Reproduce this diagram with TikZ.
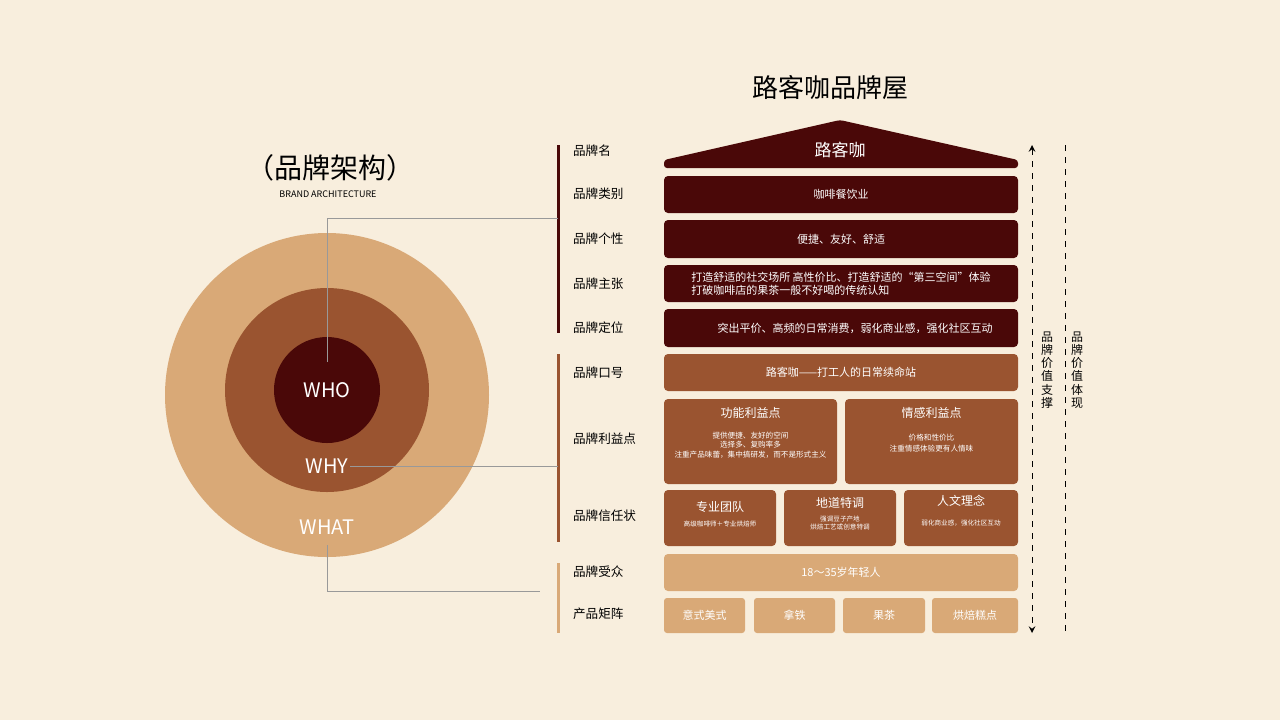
\documentclass[tikz,border=0pt]{standalone}
\usepackage{fontspec}
\setmainfont{Noto Sans CJK SC}
\begin{document}
\begin{tikzpicture}[x=0.5pt,y=-0.5pt,
  dk/.style={fill=c1,draw=none,rounded corners=2pt},
  md/.style={fill=c2,draw=none,rounded corners=2pt},
  lt/.style={fill=c3,draw=none,rounded corners=2pt},
  lab/.style={anchor=west,font=\fontsize{6.3}{7}\selectfont,text=black},
  wt/.style={text=white,align=center},
  conn/.style={draw=gray!80,line width=0.5pt}]
\definecolor{bg}{HTML}{F8EEDD}
\definecolor{c1}{HTML}{4A0808}
\definecolor{c2}{HTML}{9A5430}
\definecolor{c3}{HTML}{D9A977}
\fill[bg] (0,0) rectangle (1280,720);
\useasboundingbox (0,0) rectangle (1280,720);
% circles
\fill[c3] (327,395) circle[radius=81pt];
\fill[c2] (327,390) circle[radius=51pt];
\fill[c1] (327,390) circle[radius=26.5pt];
\node[text=white,font=\fontsize{10}{12}\selectfont] (who) at (327,390) {WHO};
\node[text=white,font=\fontsize{10}{12}\selectfont] (why) at (327,466) {WHY};
\node[text=white,font=\fontsize{10}{12}\selectfont] (what) at (327,527) {WHAT};
\node[font=\fontsize{14}{16}\selectfont] (t1) at (330,168) {（品牌架构）};
\node[font=\fontsize{4.5}{5}\selectfont] (t2) at (328,194) {BRAND ARCHITECTURE};
\node[font=\fontsize{13}{15}\selectfont] (t3) at (830,88) {路客咖品牌屋};
% bars
\draw[c1,line width=1.5pt] (558,145) -- (558,333);
\draw[c2,line width=1.5pt] (558,354) -- (558,542);
\draw[c3,line width=1.5pt] (558,563) -- (558,633);
\coordinate (p1) at (558,218); \coordinate (p2) at (558,466); \coordinate (p3) at (540,591);
\draw[conn] (327,362) -- (327,218) -- (p1);
\draw[conn] (350,466) -- (p2);
\draw[conn] (327,545) -- (327,591) -- (p3);
% labels
\foreach \t/\y in {品牌名/151,品牌类别/194,品牌个性/239,品牌主张/284,品牌定位/328,品牌口号/373,品牌利益点/439,品牌信任状/516,品牌受众/572,产品矩阵/614}
  \node[lab] at (566,\y) {\t};
% roof
\fill[c1,rounded corners=1.5pt] (664,168) -- (664,160) -- (840,120) -- (1018,160) -- (1018,168) -- cycle;
\node[wt,font=\fontsize{8.5}{10}\selectfont] (roof) at (840,150) {路客咖};
\def\fs{\fontsize{5.5}{6.5}\selectfont}
\node[dk,minimum width=177pt,minimum height=18.5pt,wt,font=\fs] (r1) at (841,194.5) {咖啡餐饮业};
\node[dk,minimum width=177pt,minimum height=19pt,wt,font=\fs] (r2) at (841,239) {便捷、友好、舒适};
\node[dk,minimum width=177pt,minimum height=18.5pt,wt,font=\fs,align=left] (r3) at (841,283.5) {打造舒适的社交场所 高性价比、打造舒适的“第三空间”体验\\打破咖啡店的果茶一般不好喝的传统认知};
\node[dk,minimum width=177pt,minimum height=19pt,wt,font=\fs] (r4) at (841,328) {\hspace{14pt}突出平价、高频的日常消费，弱化商业感，强化社区互动};
\node[md,minimum width=177pt,minimum height=18.5pt,wt,font=\fs] (r5) at (841,372.5) {路客咖——打工人的日常续命站};
% benefits
\fill[c2,rounded corners=2pt] (664,399) rectangle (837,484);
\fill[c2,rounded corners=2pt] (845,399) rectangle (1018,484);
\node[wt,font=\fontsize{6}{7}\selectfont] (b1) at (750.5,413) {功能利益点};
\node[wt,font=\fontsize{3.8}{4.8}\selectfont] (b1t) at (750.5,445) {提供便捷、友好的空间\\选择多、复购率多\\注重产品味蕾，集中搞研发，而不是形式主义};
\node[wt,font=\fontsize{6}{7}\selectfont] (b2) at (931.5,413) {情感利益点};
\node[wt,font=\fontsize{3.8}{5.5}\selectfont] (b2t) at (931.5,443) {价格和性价比\\注重情感体验更有人情味};
% trust
\fill[c2,rounded corners=2pt] (664,490) rectangle (776,546);
\fill[c2,rounded corners=2pt] (784,490) rectangle (896,546);
\fill[c2,rounded corners=2pt] (904,490) rectangle (1018,546);
\node[wt,font=\fontsize{6}{7}\selectfont] (tr1) at (720,507) {专业团队};
\node[wt,font=\fontsize{3.3}{4}\selectfont] (tr1t) at (720,524) {高级咖啡师＋专业烘焙师};
\node[wt,font=\fontsize{6}{7}\selectfont] (tr2) at (840,503) {地道特调};
\node[wt,font=\fontsize{3.3}{4.3}\selectfont] (tr2t) at (840,523) {强调豆子产地\\烘焙工艺或创意特调};
\node[wt,font=\fontsize{6}{7}\selectfont] (tr3) at (961,501) {人文理念};
\node[wt,font=\fontsize{3.3}{4}\selectfont] (tr3t) at (961,523) {弱化商业感，强化社区互动};
% audience
\node[lt,minimum width=177pt,minimum height=18.5pt,wt,font=\fs] (au) at (841,572.5) {18～35岁年轻人};
\foreach \a/\b/\t/\n in {664/745/意式美式/q1,754/835/拿铁/q2,843/925/果茶/q3,932/1018/烘焙糕点/q4}{
  \fill[c3,rounded corners=1.5pt] (\a,598) rectangle (\b,633);
  \node[wt,font=\fs] (\n) at ({(\a+\b)/2},615.5) {\t};}
% arrows
\coordinate (a1) at (1032,145); \coordinate (a2) at (1032,633);
\draw[dashed,line width=0.5pt,<->,>=stealth] (a1) -- (a2);
\coordinate (d1) at (1065,145); \coordinate (d2) at (1065,633);
\draw[dashed,line width=0.5pt] (d1) -- (d2);
\node[fill=bg,inner sep=1pt,font=\fontsize{6}{6.6}\selectfont,align=center] (v1) at (1047,370) {品\\牌\\价\\值\\支\\撑};
\node[fill=bg,inner sep=1pt,font=\fontsize{6}{6.6}\selectfont,align=center] (v2) at (1077,370) {品\\牌\\价\\值\\体\\现};
\end{tikzpicture}
\end{document}
